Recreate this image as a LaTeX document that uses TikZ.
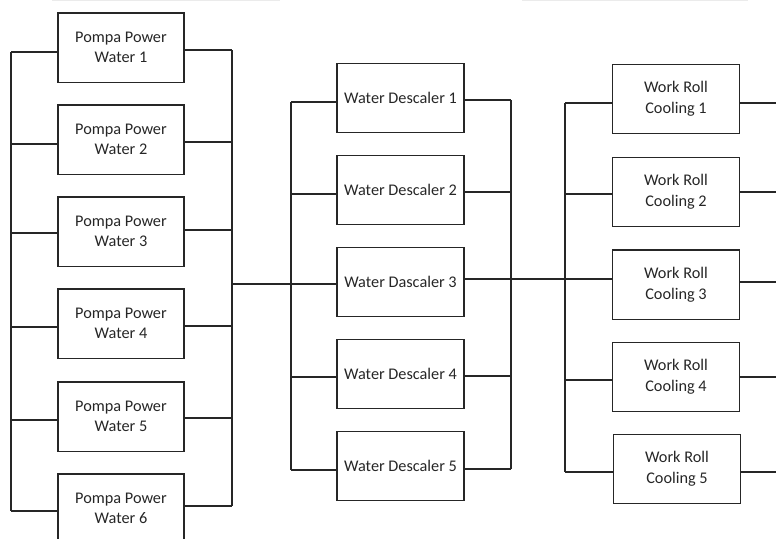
\documentclass[tikz,border=0pt]{standalone}
\usepackage{fontspec}
\setmainfont{Carlito}
\begin{document}
\begin{tikzpicture}[x=0.75pt,y=-0.75pt,
  box/.style={draw=black!85, line width=1pt, minimum width=94.5pt, minimum height=52pt,
    inner sep=0pt, align=center, font=\fontsize{12.2}{15.5}\selectfont, text=black!85},
  wire/.style={draw=black!85, line width=1pt},
  faint/.style={draw=black!8, line width=1pt}]
\useasboundingbox (0,0) rectangle (776,539);
\clip (0,0) rectangle (776,539);
% faint top lines
\draw[faint] (52,0.5) -- (280,0.5);
\draw[faint] (522,0.5) -- (748,0.5);
% column 1
\node[box] (p1) at (121,47.5) {Pompa Power\\Water 1};
\node[box] (p2) at (121,139.5) {Pompa Power\\Water 2};
\node[box] (p3) at (121,231.5) {Pompa Power\\Water 3};
\node[box] (p4) at (121,323.5) {Pompa Power\\Water 4};
\node[box] (p5) at (121,416.5) {Pompa Power\\Water 5};
\node[box] (p6) at (121,508.5) {Pompa Power\\Water 6};
% column 2
\node[box, minimum width=95.25pt] (d1) at (400.5,98) {Water Descaler 1};
\node[box, minimum width=95.25pt] (d2) at (400.5,190) {Water Descaler 2};
\node[box, minimum width=95.25pt] (d3) at (400.5,282) {Water Dascaler 3};
\node[box, minimum width=95.25pt] (d4) at (400.5,374) {Water Descaler 4};
\node[box, minimum width=95.25pt] (d5) at (400.5,466) {Water Descaler 5};
% column 3
\node[box, minimum width=95.25pt] (w1) at (676,99) {Work Roll\\Cooling 1};
\node[box, minimum width=95.25pt] (w2) at (676,192) {Work Roll\\Cooling 2};
\node[box, minimum width=95.25pt] (w3) at (676,284.5) {Work Roll\\Cooling 3};
\node[box, minimum width=95.25pt] (w4) at (676,377) {Work Roll\\Cooling 4};
\node[box, minimum width=95.25pt] (w5) at (677,469) {Work Roll\\Cooling 5};
% column 1 wiring
\foreach \i/\l/\r in {1/52/50,2/144/142,3/233/230,4/327/326,5/420/418,6/511/506}{
  \draw[wire] (11,\l) -- (p\i.west |- 0,\l);
  \draw[wire] (p\i.east |- 0,\r) -- (232,\r);
}
\draw[wire] (11,52) -- (11,511);
\draw[wire] (232,50) -- (232,506);
% link 1 -> 2
\draw[wire] (232,284) -- (291,284) -- (d3.west |- 0,284);
% column 2 wiring
\foreach \i/\l/\r in {1/102/100,2/194/192,4/377/376,5/470/469}{
  \draw[wire] (291,\l) -- (d\i.west |- 0,\l);
  \draw[wire] (d\i.east |- 0,\r) -- (511,\r);
}
\draw[wire] (291,102) -- (291,470);
\draw[wire] (511,100) -- (511,469);
% link 2 -> 3
\draw[wire] (d3.east |- 0,279) -- (w3.west |- 0,279);
% column 3 wiring
\foreach \i/\l/\r in {1/103/103,2/194/192,4/380/377,5/472/472}{
  \draw[wire] (565,\l) -- (w\i.west |- 0,\l);
}
\foreach \i/\r in {1/103,2/192,3/282,4/377,5/472}{
  \draw[wire] (w\i.east |- 0,\r) -- (780,\r);
}
\draw[wire] (565,103) -- (565,472);
\end{tikzpicture}
\end{document}
